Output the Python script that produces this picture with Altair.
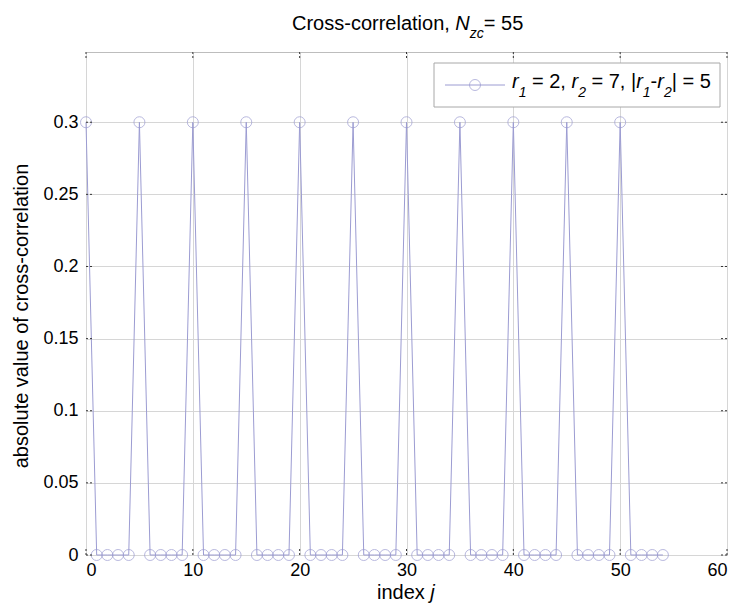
import altair as alt
import pandas as pd

# ---------------- data ----------------
index_j = [0, 1, 2, 3, 4, 5, 6, 7, 8, 9,
           10, 11, 12, 13, 14, 15, 16, 17, 18, 19,
           20, 21, 22, 23, 24, 25, 26, 27, 28, 29,
           30, 31, 32, 33, 34, 35, 36, 37, 38, 39,
           40, 41, 42, 43, 44, 45, 46, 47, 48, 49,
           50, 51, 52, 53, 54]
abs_xcorr = [0.3, 0, 0, 0, 0, 0.3, 0, 0, 0, 0,
             0.3, 0, 0, 0, 0, 0.3, 0, 0, 0, 0,
             0.3, 0, 0, 0, 0, 0.3, 0, 0, 0, 0,
             0.3, 0, 0, 0, 0, 0.3, 0, 0, 0, 0,
             0.3, 0, 0, 0, 0, 0.3, 0, 0, 0, 0,
             0.3, 0, 0, 0, 0]
x_ticks = [0, 10, 20, 30, 40, 50, 60]
y_ticks = [0, 0.05, 0.1, 0.15, 0.2, 0.25, 0.3]
x_domain = [0, 60]
y_domain = [0, 0.3487]

df = pd.DataFrame({"x": index_j, "y": abs_xcorr})
xt = pd.DataFrame({"x": x_ticks})
yt = pd.DataFrame({"y": y_ticks})

W, H = 641, 503
FONT = "Liberation Sans"
LINE_COLOR = "#9c9cd2"

xs = alt.Scale(domain=x_domain, nice=False, zero=False)
ys = alt.Scale(domain=y_domain, nice=False, zero=False)

X_AXIS = alt.Axis(
    values=x_ticks, title=None, grid=True, ticks=False, tickSize=0,
    labelPadding=6, labelFontSize=18, labelFont=FONT, labelColor="black",
    domain=False, format="d")
Y_AXIS = alt.Axis(
    values=y_ticks, title="absolute value of cross-correlation",
    grid=True, ticks=False, tickSize=0, labelPadding=8, labelFontSize=18,
    labelFont=FONT, labelColor="black", domain=False, format="~g",
    titleFont=FONT, titleFontSize=20, titleFontWeight="normal",
    titleColor="black", titleX=-59, titleY=H / 2 + 12, titleAngle=270,
    titleBaseline="alphabetic", titleAlign="center")

XE = alt.X("x:Q", scale=xs, axis=X_AXIS)
YE = alt.Y("y:Q", scale=ys, axis=Y_AXIS)

# Arial-metric character widths (per 1000 em) for text layout
CW = {" ": 278, "=": 584, ",": 278, "|": 260, "-": 333, "r": 333,
      "N": 722, "z": 500, "c": 500, "i": 222, "n": 556, "d": 556, "e": 556,
      "x": 500, "j": 222, "C": 722, "o": 556, "s": 500, "l": 222, "a": 556,
      "t": 278}
for d in "0123456789":
    CW[d] = 556


def tw(txt, size):
    return sum(CW.get(ch, 556) for ch in txt) * size / 1000.0


one = pd.DataFrame({"k": [0]})


def rich(pieces, x0, y0):
    layers = []
    x = x0
    for txt, size, italic, dy in pieces:
        lead = len(txt) - len(txt.lstrip(" "))
        x += tw(" " * lead, size)
        body = txt.lstrip(" ")
        layers.append(
            alt.Chart(one).mark_text(
                text=body, font=FONT, fontSize=size,
                fontStyle="italic" if italic else "normal",
                align="left", baseline="alphabetic", color="black"
            ).encode(x=alt.value(x), y=alt.value(y0 + dy))
        )
        x += tw(body, size)
    return layers


# ---------------- data layers ----------------
line = alt.Chart(df).mark_line(color=LINE_COLOR, strokeWidth=1).encode(x=XE, y=YE)
points = alt.Chart(df).mark_point(
    shape="circle", filled=False, color=LINE_COLOR, size=121, strokeWidth=1
).encode(x=XE, y=YE)

# inner (MATLAB-like) tick marks
tk = dict(color="#333333", strokeWidth=1, strokeDash=[2, 2])
tick_b = alt.Chart(xt).mark_rule(**tk).encode(
    x=XE, y=alt.value(H), y2=alt.value(H - 6))
tick_t = alt.Chart(xt).mark_rule(**tk).encode(
    x=XE, y=alt.value(0), y2=alt.value(6))
tick_l = alt.Chart(yt).mark_rule(**tk).encode(
    y=YE, x=alt.value(0), x2=alt.value(6))
tick_r = alt.Chart(yt).mark_rule(**tk).encode(
    y=YE, x=alt.value(W - 6), x2=alt.value(W))

# ---------------- legend ----------------
leg_box = alt.Chart(one).mark_rect(
    fill="white", stroke="#a8a8a8", strokeWidth=1
).encode(x=alt.value(348), x2=alt.value(634), y=alt.value(11), y2=alt.value(55))
leg_line = alt.Chart(one).mark_rule(color=LINE_COLOR, strokeWidth=1).encode(
    x=alt.value(359), x2=alt.value(419), y=alt.value(33))
leg_pt = alt.Chart(one).mark_point(
    shape="circle", filled=False, color=LINE_COLOR, size=121, strokeWidth=1
).encode(x=alt.value(389), y=alt.value(33))

S, s = 20, 14
leg_text = rich([
    ("r", S, True, 0), ("1", s, True, 9), (" = 2, ", S, False, 0),
    ("r", S, True, 0), ("2", s, True, 9), (" = 7, |", S, False, 0),
    ("r", S, True, 0), ("1", s, True, 9), ("-", S, False, 0),
    ("r", S, True, 0), ("2", s, True, 9), ("| = 5", S, False, 0),
], 426, 36)

# ---------------- titles ----------------
title_text = rich([
    ("Cross-correlation, ", 20, False, 0), ("N", 20, True, 0),
    ("zc", 14, True, 8), ("= 55", 20, False, 0),
], 206, -22)

xlabel_text = rich([("index ", 20, False, 0), ("j", 20, True, 0)], 291, 547)

chart = alt.layer(
    line, points, tick_b, tick_t, tick_l, tick_r,
    leg_box, leg_line, leg_pt, *leg_text, *title_text, *xlabel_text
).properties(
    width=W, height=H,
    autosize=alt.AutoSizeParams(type="none"),
    padding={"left": 78, "top": 44, "right": 5, "bottom": 50},
    background="white",
).configure_view(
    stroke="#bdbdbd", strokeWidth=1
).configure_axis(
    gridColor="#d6d6d6", gridWidth=1
)

chart.save("out.html", embed_options={"renderer": "svg", "actions": False})
